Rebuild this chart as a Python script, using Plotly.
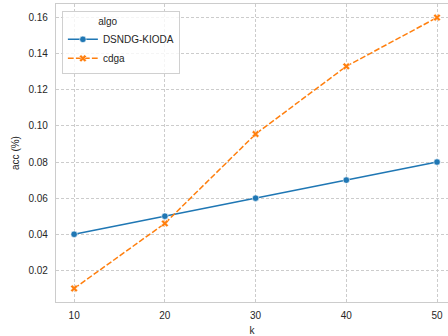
import plotly.graph_objects as go

# k values and accuracy per algorithm
k_values = [10, 20, 30, 40, 50]
acc_dsndg_kioda = [0.04, 0.05, 0.06, 0.07, 0.08]
acc_cdga = [0.01, 0.046, 0.0955, 0.133, 0.16]
y_ticks = [0.02, 0.04, 0.06, 0.08, 0.10, 0.12, 0.14, 0.16]
y_tick_labels = ["0.02", "0.04", "0.06", "0.08", "0.10", "0.12", "0.14", "0.16"]

FONT = "Arial, Liberation Sans, DejaVu Sans, sans-serif"
TEXT = "#262626"
GRID = "#cccccc"

fig = go.Figure()
fig.add_trace(go.Scatter(
    x=k_values, y=acc_dsndg_kioda, name="DSNDG-KIODA",
    mode="lines+markers",
    line=dict(color="#1f77b4", width=1.5),
    marker=dict(symbol="circle", size=6.5, color="#1f77b4",
                line=dict(color="white", width=0.6)),
))
fig.add_trace(go.Scatter(
    x=k_values, y=acc_cdga, name="cdga",
    mode="lines+markers",
    line=dict(color="#ff7f0e", width=1.5, dash="5.8px,2.2px"),
    marker=dict(symbol="x", size=6.5, color="#ff7f0e",
                line=dict(color="white", width=0.5)),
))

fig.update_layout(
    width=448, height=336,
    margin=dict(l=56, r=0, t=4, b=34),
    paper_bgcolor="white", plot_bgcolor="white",
    font=dict(family=FONT, size=10, color=TEXT),
    showlegend=True,
    legend=dict(
        x=0.015, y=0.977, xanchor="left", yanchor="top",
        bgcolor="rgba(255,255,255,0.8)", bordercolor="#d0d0d0", borderwidth=1,
        font=dict(family=FONT, size=10, color=TEXT),
        title=dict(text="\u00a0" * 12 + "algo", font=dict(family=FONT, size=10, color=TEXT)),
        tracegroupgap=0, itemwidth=30,
    ),
)

fig.update_xaxes(
    range=[8, 51.21], tickvals=k_values, ticktext=[str(v) for v in k_values],
    showgrid=True, gridcolor=GRID, gridwidth=0.9, griddash="3px,2px",
    showline=True, linecolor=GRID, linewidth=1.2, mirror=True,
    ticks="outside", ticklen=4, tickcolor="rgba(0,0,0,0)",
    zeroline=False,
    title=dict(text="k", standoff=6, font=dict(family=FONT, size=10, color=TEXT)),
    tickfont=dict(family=FONT, size=10, color=TEXT),
)
fig.update_yaxes(
    range=[0.0025, 0.1675], tickvals=y_ticks, ticktext=y_tick_labels,
    showgrid=True, gridcolor=GRID, gridwidth=0.9, griddash="3px,2px",
    showline=True, linecolor=GRID, linewidth=1.2, mirror=False,
    ticks="outside", ticklen=5, tickcolor="rgba(0,0,0,0)",
    zeroline=False,
    title=dict(text="acc (%)", standoff=6, font=dict(family=FONT, size=10, color=TEXT)),
    tickfont=dict(family=FONT, size=10, color=TEXT),
)

fig.write_html("out.html")
